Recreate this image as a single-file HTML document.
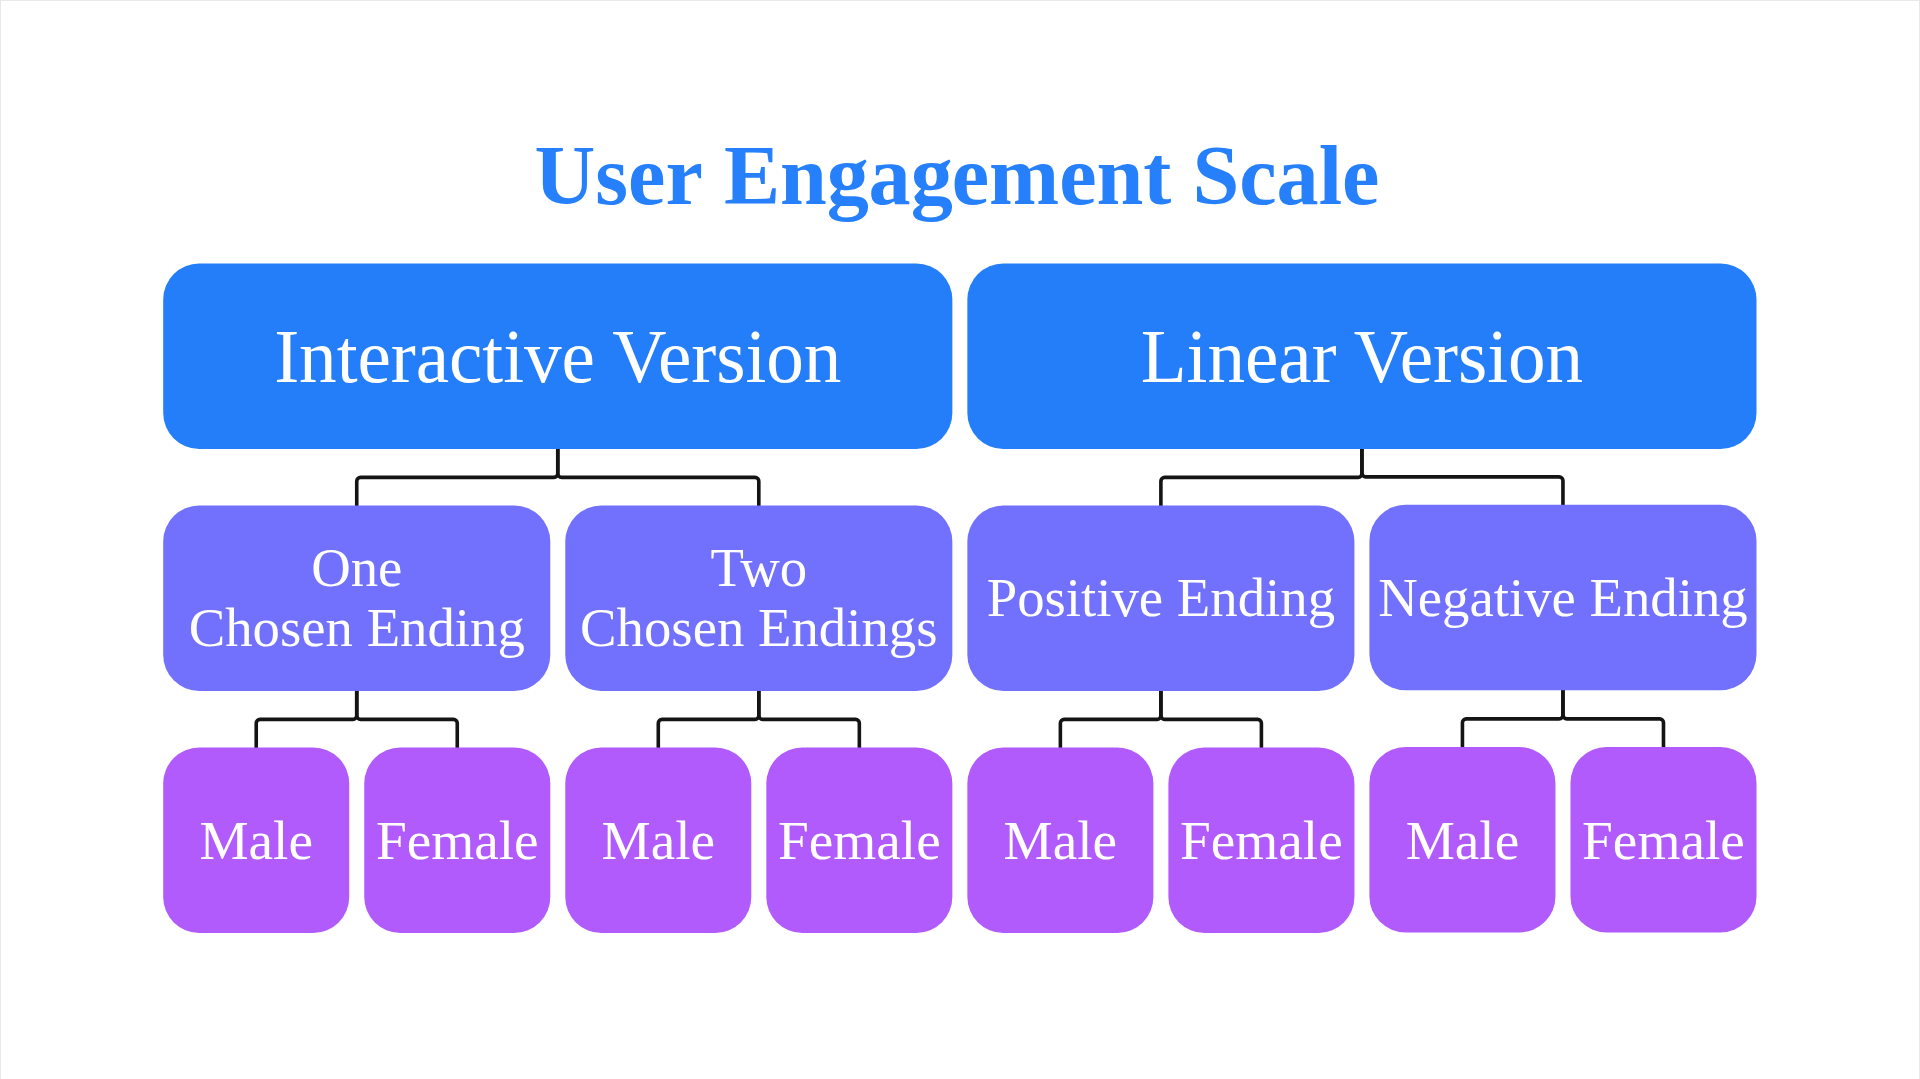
<!DOCTYPE html>
<html lang="en"><head><meta charset="utf-8"><title>User Engagement Scale</title>
<style>html,body{margin:0;padding:0;background:#fff;}body{width:1920px;height:1079px;overflow:hidden;position:relative;}svg{position:absolute;left:0;top:0;display:block;}text{font-family:"Liberation Serif",serif;fill:#fff;text-anchor:middle;}.t{font-weight:bold;fill:#267ffb;font-size:84.2px;}.l1{font-size:75.2px;letter-spacing:-0.07px;}.l2{font-size:54.75px;}.l3{font-size:55.3px;}.c{fill:none;stroke:#141414;stroke-width:3.6;stroke-linejoin:round;stroke-linecap:butt;}</style></head><body>
<svg width="1920" height="1079" viewBox="0 0 1920 1079">
<rect x="0" y="0" width="1920" height="1079" fill="#ffffff"/>
<rect x="0" y="0" width="1920" height="1" fill="#e8e8e8"/>
<rect x="0" y="0" width="1" height="1079" fill="#e8e8e8"/>
<rect x="1919" y="0" width="1" height="1079" fill="#e8e8e8"/>
<g>
<path class="c" d="M557.77 447.95 V473.60 A3.8 3.8 0 0 1 553.98 477.40 H360.54 A3.8 3.8 0 0 0 356.74 481.20 V506.45"/>
<path class="c" d="M557.77 447.95 V473.60 A3.8 3.8 0 0 0 561.57 477.40 H755.01 A3.8 3.8 0 0 1 758.81 481.20 V506.45"/>
<path class="c" d="M1361.92 447.95 V473.60 A3.8 3.8 0 0 1 1358.12 477.40 H1164.69 A3.8 3.8 0 0 0 1160.89 481.20 V506.45"/>
<path class="c" d="M1361.92 447.95 V473.05 A3.8 3.8 0 0 0 1365.72 476.85 H1559.16 A3.8 3.8 0 0 1 1562.96 480.65 V505.85"/>
<path class="c" d="M356.74 689.90 V715.62 A3.8 3.8 0 0 1 352.94 719.42 H260.02 A3.8 3.8 0 0 0 256.22 723.22 V748.55"/>
<path class="c" d="M356.74 689.90 V715.62 A3.8 3.8 0 0 0 360.54 719.42 H453.46 A3.8 3.8 0 0 1 457.26 723.22 V748.55"/>
<path class="c" d="M758.81 689.90 V715.62 A3.8 3.8 0 0 1 755.01 719.42 H662.09 A3.8 3.8 0 0 0 658.29 723.22 V748.55"/>
<path class="c" d="M758.81 689.90 V715.62 A3.8 3.8 0 0 0 762.61 719.42 H855.53 A3.8 3.8 0 0 1 859.33 723.22 V748.55"/>
<path class="c" d="M1160.89 689.90 V715.62 A3.8 3.8 0 0 1 1157.09 719.42 H1064.17 A3.8 3.8 0 0 0 1060.37 723.22 V748.55"/>
<path class="c" d="M1160.89 689.90 V715.62 A3.8 3.8 0 0 0 1164.69 719.42 H1257.61 A3.8 3.8 0 0 1 1261.41 723.22 V748.55"/>
<path class="c" d="M1562.96 689.30 V715.03 A3.8 3.8 0 0 1 1559.16 718.83 H1466.24 A3.8 3.8 0 0 0 1462.44 722.62 V747.95"/>
<path class="c" d="M1562.96 689.30 V715.03 A3.8 3.8 0 0 0 1566.76 718.83 H1659.68 A3.8 3.8 0 0 1 1663.48 722.62 V747.95"/>
<rect x="163.20" y="263.50" width="789.15" height="185.45" rx="36" ry="36" fill="#247efa"/>
<rect x="967.35" y="263.50" width="789.15" height="185.45" rx="36" ry="36" fill="#247efa"/>
<rect x="163.20" y="505.45" width="387.07" height="185.45" rx="36" ry="36" fill="#7271fd"/>
<rect x="565.27" y="505.45" width="387.07" height="185.45" rx="36" ry="36" fill="#7271fd"/>
<rect x="967.35" y="505.45" width="387.07" height="185.45" rx="36" ry="36" fill="#7271fd"/>
<rect x="1369.42" y="504.85" width="387.07" height="185.45" rx="36" ry="36" fill="#7271fd"/>
<rect x="163.20" y="747.55" width="186.04" height="185.45" rx="36" ry="36" fill="#b15bfd"/>
<rect x="364.24" y="747.55" width="186.04" height="185.45" rx="36" ry="36" fill="#b15bfd"/>
<rect x="565.27" y="747.55" width="186.04" height="185.45" rx="36" ry="36" fill="#b15bfd"/>
<rect x="766.31" y="747.55" width="186.04" height="185.45" rx="36" ry="36" fill="#b15bfd"/>
<rect x="967.35" y="747.55" width="186.04" height="185.45" rx="36" ry="36" fill="#b15bfd"/>
<rect x="1168.39" y="747.55" width="186.04" height="185.45" rx="36" ry="36" fill="#b15bfd"/>
<rect x="1369.42" y="746.95" width="186.04" height="185.45" rx="36" ry="36" fill="#b15bfd"/>
<rect x="1570.46" y="746.95" width="186.04" height="185.45" rx="36" ry="36" fill="#b15bfd"/>
<text class="t" x="957.00" y="204.00">User <tspan dx="1.5">Eng</tspan><tspan dx="-0.4">ag</tspan><tspan dx="-1.1">ement Scale</tspan></text>
<text class="l1" x="557.77" y="382.00">Interactive Version</text>
<text class="l1" x="1361.92" y="382.00">Linear Version</text>
<text class="l2" x="356.74" y="586.00">One</text>
<text class="l2" x="356.74" y="646.00">Chosen Ending</text>
<text class="l2" x="758.81" y="586.00">Two</text>
<text class="l2" x="758.81" y="646.00">Chosen Endings</text>
<text class="l2" x="1160.89" y="616.00">Positive Ending</text>
<text class="l2" x="1562.96" y="616.00">Negative Ending</text>
<text class="l3" x="256.22" y="859.00">Male</text>
<text class="l3" x="457.26" y="859.00">Female</text>
<text class="l3" x="658.29" y="859.00">Male</text>
<text class="l3" x="859.33" y="859.00">Female</text>
<text class="l3" x="1060.37" y="859.00">Male</text>
<text class="l3" x="1261.41" y="859.00">Female</text>
<text class="l3" x="1462.44" y="859.00">Male</text>
<text class="l3" x="1663.48" y="859.00">Female</text>
</g>
</svg></body></html>
